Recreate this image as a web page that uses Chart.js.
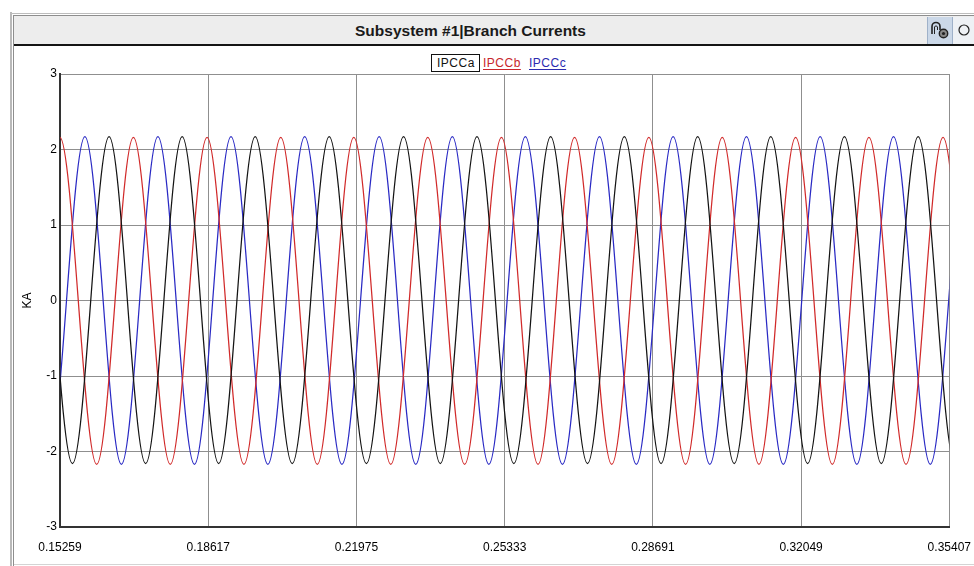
<!DOCTYPE html>
<html>
<head>
<meta charset="utf-8">
<title>Subsystem #1|Branch Currents</title>
<script src="https://cdn.jsdelivr.net/npm/chart.js@4.4.1/dist/chart.umd.min.js"></script>
<style>
  html, body { margin: 0; padding: 0; background: #fff; width: 974px; height: 566px; overflow: hidden; }
  body { position: relative; font-family: "Liberation Sans", Arial, sans-serif; }
  .edge { position: absolute; }
  #outerLeft { left: 10px; top: 12px; width: 2px; height: 554px; background: #b9b9b9; }
  #innerLeft { left: 13px; top: 15px; width: 1px; height: 551px; background: #8e8e8e; }
  #outerTop { left: 10px; top: 13px; width: 964px; height: 1px; background: #bdbdbd; }
  #innerTop { left: 13px; top: 15px; width: 961px; height: 1px; background: #8e8e8e; }
  #bottomLine { left: 14px; top: 564px; width: 960px; height: 1px; background: #d4d4d4; }
  #titlebar { position: absolute; left: 14px; top: 16px; width: 960px; height: 28px; background: #ededed; border-bottom: 2px solid #141414; }
  #title { position: absolute; left: 355px; top: 16px; height: 28px; white-space: nowrap;
           font: bold 15.5px "Liberation Sans", Arial, sans-serif; line-height: 29px; color: #1a1a1a; }
  #pinBtn { position: absolute; left: 927px; top: 17px; width: 24px; height: 27px; background: #cbd8e8;
            border-left: 1px solid #9fb1c9; border-right: 1px solid #9fb1c9; }
  #dotBtn { position: absolute; left: 953px; top: 17px; width: 24px; height: 27px; background: #eef1f5; }
  #plot { position: absolute; left: 14px; top: 47px; }
  .lg { position: absolute; top: 54px; height: 18px; line-height: 18px; font-size: 12px; letter-spacing: 0.5px;
        white-space: nowrap; font-family: "Liberation Sans", Arial, sans-serif; }
  .lg.active { border: 1px solid #111; height: 16px; line-height: 16px; padding: 0 4px 0 5px; }
  .lg.plain { text-decoration: underline; text-underline-offset: 2px; }
</style>
</head>
<body>
<div class="edge" id="outerLeft"></div>
<div class="edge" id="outerTop"></div>
<div class="edge" id="innerTop"></div>
<div class="edge" id="innerLeft"></div>
<div class="edge" id="bottomLine"></div>
<div id="titlebar"></div>
<div id="title">Subsystem #1|Branch Currents</div>
<div id="pinBtn">
  <svg width="24" height="27" viewBox="0 0 24 27">
    <path d="M4 17 V9.5 A4 4 0 0 1 12 9.5 V13" fill="none" stroke="#222" stroke-width="1.6"/>
    <path d="M6.5 17 V10 A1.6 1.6 0 0 1 9.5 10 V13" fill="none" stroke="#222" stroke-width="1"/>
    <circle cx="15.5" cy="16.5" r="4.2" fill="#888" stroke="#222" stroke-width="1.4"/>
    <circle cx="15.5" cy="16.5" r="1.6" fill="#222"/>
  </svg>
</div>
<div id="dotBtn">
  <svg width="24" height="27" viewBox="0 0 24 27">
    <circle cx="11" cy="13" r="5" fill="none" stroke="#222" stroke-width="1.2"/>
  </svg>
</div>
<div id="legend"></div>
<canvas id="plot" width="970" height="519"></canvas>

<script>
// Phase currents: times (s) of successive crests and troughs, and their levels (kA).
const ipccaTime = [0.13875, 0.14708, 0.15541, 0.16371, 0.17199, 0.18027, 0.18854, 0.19681, 0.20520, 0.21358,
                   0.22201, 0.23043, 0.23875, 0.24706, 0.25541, 0.26375, 0.27210, 0.28045, 0.28876, 0.29706,
                   0.30534, 0.31362, 0.32197, 0.33031, 0.33866, 0.34701, 0.35535, 0.36368];
const ipccaKA   = [-2.16, 2.17, -2.16, 2.17, -2.16, 2.17, -2.16, 2.17, -2.16, 2.17,
                   -2.16, 2.17, -2.16, 2.17, -2.16, 2.17, -2.16, 2.17, -2.16, 2.17,
                   -2.16, 2.17, -2.16, 2.17, -2.16, 2.17, -2.16, 2.17];

const ipccbTime = [0.13591, 0.14424, 0.15257, 0.16090, 0.16922, 0.17757, 0.18591, 0.19426, 0.20261, 0.21088,
                   0.21915, 0.22753, 0.23591, 0.24426, 0.25261, 0.26089, 0.26917, 0.27759, 0.28600, 0.29432,
                   0.30263, 0.31094, 0.31925, 0.32756, 0.33586, 0.34426, 0.35265, 0.36098, 0.36931];
const ipccbKA   = [2.16, -2.17, 2.16, -2.17, 2.16, -2.17, 2.16, -2.17, 2.16, -2.17,
                   2.16, -2.17, 2.16, -2.17, 2.16, -2.17, 2.16, -2.17, 2.16, -2.17,
                   2.16, -2.17, 2.16, -2.17, 2.16, -2.17, 2.16, -2.17, 2.16];

const ipcccTime = [0.14157, 0.14990, 0.15823, 0.16650, 0.17477, 0.18305, 0.19133, 0.19968, 0.20803, 0.21646,
                   0.22490, 0.23319, 0.24148, 0.24975, 0.25802, 0.26642, 0.27481, 0.28316, 0.29150, 0.29981,
                   0.30811, 0.31646, 0.32481, 0.33312, 0.34143, 0.34976, 0.35810, 0.36643];
const ipcccKA   = [2.17, -2.17, 2.17, -2.17, 2.17, -2.17, 2.17, -2.17, 2.17, -2.17,
                   2.17, -2.17, 2.17, -2.17, 2.17, -2.17, 2.17, -2.17, 2.17, -2.17,
                   2.17, -2.17, 2.17, -2.17, 2.17, -2.17, 2.17, -2.17];

const seriesNames = ['IPCCa', 'IPCCb', 'IPCCc'];
const xTickLabels = ['0.15259', '0.18617', '0.21975', '0.25333', '0.28691', '0.32049', '0.35407'];
const yTickValues = [-3, -2, -1, 0, 1, 2, 3];
const yAxisTitle = 'KA';

const xTickValues = xTickLabels.map(Number);
const toPoints = (t, v) => t.map((x, i) => ({ x: x, y: v[i] }));

const FONT = '"Liberation Sans", Arial, sans-serif';
const traceColors = ['#141414', '#d12a2a', '#2a2ac4'];
const legendColors = ['#111111', '#c8262b', '#2b2bb0'];

const datasets = [
  toPoints(ipccaTime, ipccaKA),
  toPoints(ipccbTime, ipccbKA),
  toPoints(ipcccTime, ipcccKA)
].map((pts, i) => ({
  label: seriesNames[i],
  data: pts,
  borderColor: traceColors[i],
  borderWidth: 1.25,
  pointRadius: 0,
  fill: false,
  cubicInterpolationMode: 'monotone',
  capBezierPoints: false
}));

const gridColor = '#8f8f8f';

const chart = new Chart(document.getElementById('plot'), {
  type: 'line',
  data: { datasets: datasets },
  options: {
    responsive: false,
    animation: false,
    events: [],
    layout: { padding: { top: 27, right: 31, left: 0, bottom: 0 } },
    elements: { line: { capBezierPoints: false } },
    plugins: {
      legend: { display: false },
      title: { display: false },
      tooltip: { enabled: false }
    },
    scales: {
      x: {
        type: 'linear',
        min: xTickValues[0],
        max: xTickValues[xTickValues.length - 1],
        afterBuildTicks: s => { s.ticks = xTickValues.map(v => ({ value: v })); },
        afterFit: s => { s.height = 39; },
        grid: { color: gridColor, lineWidth: 1, drawTicks: false },
        border: { color: '#333333', width: 2 },
        ticks: {
          autoSkip: false, maxRotation: 0, padding: 13, color: '#000',
          font: { family: FONT, size: 12 },
          callback: (v, i) => xTickLabels[i]
        }
      },
      y: {
        min: yTickValues[0],
        max: yTickValues[yTickValues.length - 1],
        afterBuildTicks: s => { s.ticks = yTickValues.map(v => ({ value: v })); },
        afterFit: s => { s.width = 46; },
        grid: { color: gridColor, lineWidth: 1, drawTicks: false },
        border: { color: '#333333', width: 2 },
        ticks: {
          padding: 3, color: '#000',
          font: { family: FONT, size: 12 },
          callback: v => String(v)
        },
        title: {
          display: true, text: yAxisTitle, color: '#000',
          padding: { top: 6, bottom: 0 },
          font: { family: FONT, size: 12 }
        }
      }
    }
  }
});

// Trace legend: the selected trace is boxed, the others are underlined in their colour.
const legendLeft = [431, 483, 529];
const legendEl = document.getElementById('legend');
chart.data.datasets.forEach((ds, i) => {
  const item = document.createElement('span');
  item.textContent = ds.label;
  item.className = 'lg ' + (i === 0 ? 'active' : 'plain');
  item.style.left = legendLeft[i] + 'px';
  item.style.color = legendColors[i];
  legendEl.appendChild(item);
});
</script>
</body>
</html>
